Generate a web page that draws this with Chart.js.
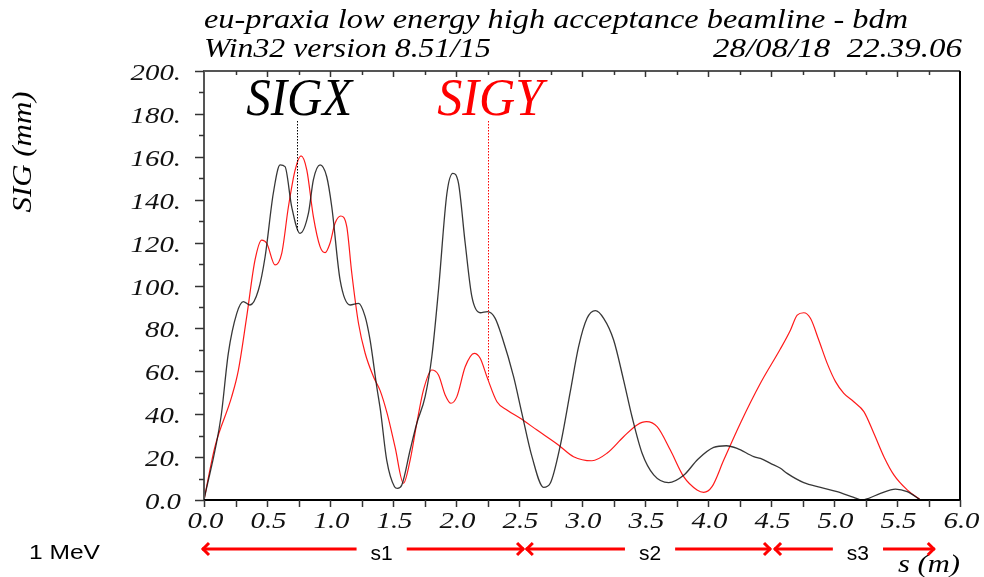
<!DOCTYPE html>
<html>
<head>
<meta charset="utf-8">
<title>SIGX / SIGY envelope</title>
<script src="https://cdn.jsdelivr.net/npm/chart.js@4.4.1/dist/chart.umd.min.js"></script>
<style>
  html, body { margin: 0; padding: 0; background: #fff; }
  #wrap { width: 984px; height: 577px; }
</style>
</head>
<body>
<div id="wrap"><canvas id="sigChart" width="984" height="577"></canvas></div>
<script>
// Beam envelope along the line: s in m, sigma in mm
const sigxS = [0, 0.135, 0.193, 0.26, 0.312, 0.365, 0.432, 0.485, 0.55, 0.604, 0.643, 0.696, 0.762, 0.829, 0.868, 0.921, 0.974, 1.014, 1.08, 1.16, 1.226, 1.279, 1.318, 1.371, 1.40, 1.45, 1.512, 1.535, 1.57, 1.636, 1.689, 1.755, 1.808, 1.861, 1.928, 1.975, 2.02, 2.073, 2.126, 2.192, 2.25, 2.311, 2.365, 2.457, 2.523, 2.603, 2.695, 2.748, 2.828, 2.907, 2.973, 3.04, 3.106, 3.172, 3.251, 3.33, 3.397, 3.477, 3.569, 3.688, 3.807, 3.92, 4.045, 4.145, 4.231, 4.363, 4.416, 4.496, 4.575, 4.628, 4.76, 4.893, 5.025, 5.157, 5.224, 5.276, 5.369, 5.488, 5.581, 5.687];
const sigxV = [0, 38.8, 68.4, 87.0, 92.5, 90.9, 97.9, 113.4, 143.0, 156.2, 155.4, 136.7, 124.3, 133.7, 149.2, 156.2, 150.7, 136.7, 102.6, 90.9, 91.7, 85.5, 74.6, 52.8, 42.0, 18.6, 6.2, 5.4, 7.0, 23.3, 35.8, 48.2, 66.8, 97.9, 143.0, 152.3, 147.6, 119.7, 94.8, 87.3, 87.8, 84.7, 76.1, 57.5, 40.4, 20.2, 5.9, 7.8, 25.5, 50.5, 71.5, 84.7, 88.3, 84.7, 74.6, 55.9, 38.8, 21.8, 11.7, 8.1, 11.5, 19.0, 24.5, 25.3, 24.1, 20.2, 19.4, 17.1, 14.8, 12.4, 8.1, 5.9, 3.9, 1.2, 0, 0.8, 3.1, 5.1, 3.9, 0];

const sigyS = [0, 0.087, 0.22, 0.273, 0.339, 0.405, 0.458, 0.498, 0.564, 0.617, 0.67, 0.723, 0.77, 0.816, 0.868, 0.921, 0.961, 1.0, 1.04, 1.085, 1.133, 1.173, 1.226, 1.279, 1.345, 1.398, 1.455, 1.517, 1.583, 1.636, 1.689, 1.742, 1.808, 1.861, 1.914, 1.96, 2.007, 2.073, 2.145, 2.192, 2.25, 2.325, 2.404, 2.51, 2.643, 2.81, 2.933, 3.079, 3.198, 3.33, 3.437, 3.511, 3.596, 3.701, 3.807, 3.913, 3.966, 4.032, 4.125, 4.257, 4.416, 4.575, 4.655, 4.708, 4.76, 4.813, 4.879, 4.946, 5.012, 5.078, 5.157, 5.237, 5.316, 5.396, 5.475, 5.581, 5.687];
const sigyV = [0, 24.9, 48.2, 60.6, 85.5, 111.9, 121.2, 119.7, 109.6, 115.0, 136.7, 153.8, 160.4, 153.8, 132.1, 118.1, 115.3, 119.7, 129.0, 132.4, 127.4, 105.7, 82.4, 68.4, 57.5, 51.0, 40.0, 24.5, 7.8, 18.6, 35.8, 51.3, 60.6, 58.3, 49.0, 45.1, 48.2, 62.1, 68.4, 66.1, 56.7, 45.8, 42.0, 38.1, 32.6, 25.8, 20.2, 18.3, 21.8, 29.5, 35.0, 36.5, 34.2, 23.3, 10.9, 4.7, 3.6, 6.2, 18.6, 35.8, 54.4, 70.5, 79.3, 86.2, 87.3, 84.7, 74.6, 63.7, 55.2, 49.7, 45.8, 41.2, 31.1, 20.2, 11.7, 4.7, 0];

// curve tags with the s where the dotted leader meets each curve
const curveNames = ['SIGX', 'SIGY'];
const curveColors = ['#000000', '#ff0000'];
const curveMarkS = [0.74, 2.256];
const curveMarkV = [125, 56];

// beamline sections along s
const sectionNames = ['s1', 's2', 's3'];
const sectionFrom = [0.0, 2.57, 4.54];
const sectionTo = [2.54, 4.50, 5.80];
const sectionLabelAt = [1.41, 3.54, 5.19];

const serif = '"Liberation Serif"';
const sans = '"Liberation Sans"';
const labelFont = `italic 24px ${serif}`;
const labelStretch = 1.2;

function toPoints(xs, ys) {
    return xs.map((s, i) => ({ x: s, y: ys[i] }));
}

function isMultiple(v, step) {
    return Math.abs(v / step - Math.round(v / step)) < 1e-6;
}

// text drawn at a horizontal stretch k (or fitted to a width)
function stretchText(ctx, text, x, y, font, k, align) {
    ctx.save();
    ctx.font = font;
    const w = ctx.measureText(text).width * k;
    const left = align === 'right' ? x - w : align === 'center' ? x - w / 2 : x;
    ctx.translate(left, y);
    ctx.scale(k, 1);
    ctx.textAlign = 'left';
    ctx.fillText(text, 0, 0);
    ctx.restore();
}

function fitText(ctx, text, x, y, font, width, align) {
    ctx.save();
    ctx.font = font;
    const k = width / ctx.measureText(text).width;
    ctx.restore();
    stretchText(ctx, text, x, y, font, k, align);
}

const framePlugin = {
    id: 'frame',
    afterDatasetsDraw(chart) {
        const { ctx, chartArea: a, scales: { x, y } } = chart;
        ctx.save();
        ctx.lineCap = 'butt';

        // left + top in grey, bottom + right in black
        ctx.strokeStyle = '#555';
        ctx.lineWidth = 2;
        ctx.beginPath();
        ctx.moveTo(a.left, a.bottom);
        ctx.lineTo(a.left, a.top);
        ctx.lineTo(a.right, a.top);
        ctx.stroke();
        ctx.strokeStyle = '#000';
        ctx.beginPath();
        ctx.moveTo(a.left, a.bottom);
        ctx.lineTo(a.right, a.bottom);
        ctx.lineTo(a.right, a.top);
        ctx.stroke();

        ctx.lineWidth = 1.5;
        ctx.strokeStyle = '#333';
        ctx.fillStyle = '#111';
        ctx.textBaseline = 'alphabetic';
        y.ticks.forEach(t => {
            const py = Math.round(y.getPixelForValue(t.value)) + 0.5;
            const major = isMultiple(t.value, 20);
            const len = major ? 9 : 5;
            ctx.beginPath();
            ctx.moveTo(a.left - len, py);
            ctx.lineTo(a.left, py);
            ctx.stroke();
            if (major) {
                const txt = t.value === 0 ? '0.0' : t.value + '.';
                stretchText(ctx, txt, a.left - 23, py + 8, labelFont, labelStretch, 'right');
            }
        });
        x.ticks.forEach(t => {
            const px = Math.round(x.getPixelForValue(t.value)) + 0.5;
            ctx.beginPath();
            ctx.moveTo(px, a.bottom);
            ctx.lineTo(px, a.bottom + 7);
            ctx.stroke();
            if (t.value > 0 && t.value < 6) {
                ctx.beginPath();
                ctx.moveTo(px, a.top);
                ctx.lineTo(px, a.top + (isMultiple(t.value, 0.5) ? 6 : 4));
                ctx.stroke();
            }
            if (isMultiple(t.value, 0.5)) {
                stretchText(ctx, t.value.toFixed(1), px + 1, a.bottom + 28, labelFont, labelStretch, 'center');
            }
        });
        ctx.restore();
    }
};

const notesPlugin = {
    id: 'notes',
    afterDraw(chart) {
        const { ctx, scales: { x, y } } = chart;
        ctx.save();
        ctx.fillStyle = '#000';
        ctx.textBaseline = 'alphabetic';

        // run header
        fitText(ctx, 'eu-praxia low energy high acceptance beamline - bdm', 204, 28, `italic 27px ${serif}`, 704, 'left');
        fitText(ctx, 'Win32 version 8.51/15', 204, 57, `italic 27px ${serif}`, 287, 'left');
        fitText(ctx, '28/08/18  22.39.06', 962, 57, `italic 27px ${serif}`, 249, 'right');

        // axis titles
        ctx.save();
        ctx.translate(31, 152);
        ctx.rotate(-Math.PI / 2);
        fitText(ctx, 'SIG (mm)', 0, 0, `italic 27px ${serif}`, 121, 'center');
        ctx.restore();
        fitText(ctx, 's (m)', 960, 572, `italic 26px ${serif}`, 62, 'right');

        // curve tags with dotted leaders
        curveNames.forEach((name, i) => {
            const px = x.getPixelForValue(curveMarkS[i]);
            ctx.fillStyle = curveColors[i];
            fitText(ctx, name, px + 2, 115, `italic 53px ${serif}`, 106, 'center');
            ctx.strokeStyle = curveColors[i];
            ctx.lineWidth = 1;
            ctx.setLineDash([1.5, 1.5]);
            ctx.beginPath();
            ctx.moveTo(Math.round(px) + 0.5, 121);
            ctx.lineTo(Math.round(px) + 0.5, y.getPixelForValue(curveMarkV[i]));
            ctx.stroke();
            ctx.setLineDash([]);
        });

        // energy + section arrows
        ctx.fillStyle = '#000';
        fitText(ctx, '1 MeV', 29, 559, `20px ${sans}`, 71, 'left');

        const ay = 549;
        ctx.strokeStyle = '#ff0000';
        ctx.lineWidth = 3;
        ctx.lineJoin = 'miter';
        sectionNames.forEach((name, i) => {
            const x0 = x.getPixelForValue(sectionFrom[i]) - 2;
            const x1 = x.getPixelForValue(sectionTo[i]);
            const xm = x.getPixelForValue(sectionLabelAt[i]);
            ctx.font = `21px ${sans}`;
            const half = ctx.measureText(name).width / 2 + 14;
            ctx.beginPath();
            ctx.moveTo(x0, ay);
            ctx.lineTo(xm - half, ay);
            ctx.moveTo(xm + half, ay);
            ctx.lineTo(x1, ay);
            ctx.stroke();
            ctx.beginPath();
            ctx.moveTo(x0 + 7, ay - 6);
            ctx.lineTo(x0 + 1, ay);
            ctx.lineTo(x0 + 7, ay + 6);
            ctx.moveTo(x1 - 7, ay - 6);
            ctx.lineTo(x1 - 1, ay);
            ctx.lineTo(x1 - 7, ay + 6);
            ctx.stroke();
            ctx.fillStyle = '#000';
            ctx.textAlign = 'center';
            ctx.fillText(name, xm, 560);
        });
        ctx.restore();
    }
};

function drawChart() {
    new Chart(document.getElementById('sigChart'), {
        type: 'line',
        data: {
            datasets: [
                {
                    label: 'SIGX',
                    data: toPoints(sigxS, sigxV),
                    borderColor: 'rgba(20,20,20,0.85)',
                    borderWidth: 1.3,
                    pointRadius: 0,
                    cubicInterpolationMode: 'monotone'
                },
                {
                    label: 'SIGY',
                    data: toPoints(sigyS, sigyV),
                    borderColor: 'rgba(255,0,0,0.9)',
                    borderWidth: 1.2,
                    pointRadius: 0,
                    cubicInterpolationMode: 'monotone'
                }
            ]
        },
        options: {
            responsive: false,
            animation: false,
            layout: { padding: { top: 71, right: 24, left: 0, bottom: 0 } },
            plugins: { legend: { display: false }, tooltip: { enabled: false } },
            scales: {
                x: {
                    type: 'linear',
                    min: 0,
                    max: 6,
                    grid: { display: false, drawTicks: false },
                    border: { display: false },
                    ticks: { stepSize: 0.25, autoSkip: false, display: false },
                    afterFit: s => { s.height = 77; }
                },
                y: {
                    min: 0,
                    max: 200,
                    grid: { display: false, drawTicks: false },
                    border: { display: false },
                    ticks: { stepSize: 10, autoSkip: false, display: false },
                    afterFit: s => { s.width = 204; }
                }
            }
        },
        plugins: [framePlugin, notesPlugin]
    });
}

// make sure the faces are ready before any canvas text goes down
Promise.all([
    document.fonts.load(`italic 26px ${serif}`),
    document.fonts.load(`20px ${sans}`)
]).catch(() => {}).then(drawChart);
</script>
</body>
</html>
